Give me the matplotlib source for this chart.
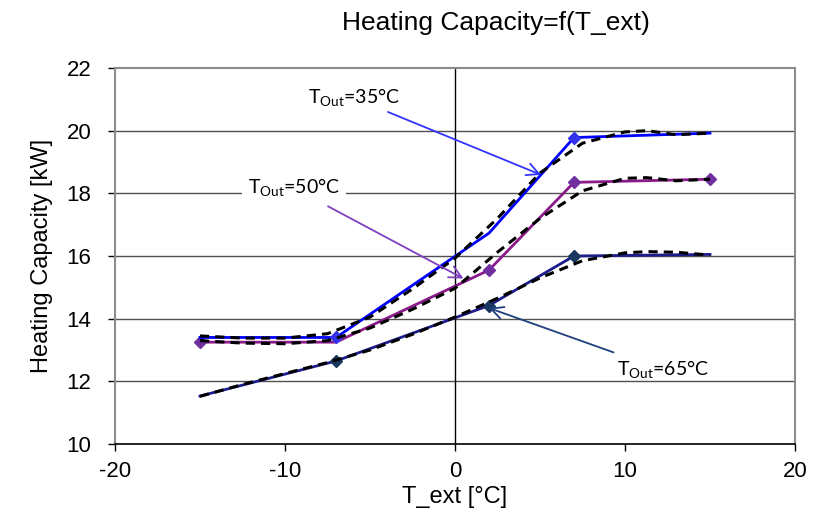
import matplotlib
matplotlib.use('Agg')
import matplotlib.pyplot as plt

plt.rcParams['axes.unicode_minus'] = False

# measured points
t_ext = [-15, -7, 2, 7, 15]
cap_35 = [13.4, 13.4, 16.73, 19.78, 19.92]
cap_50 = [13.25, 13.25, 15.55, 18.35, 18.45]
cap_65 = [11.53, 12.65, 14.42, 16.0, 16.05]

# fitted curves (dashed)
t_fit = [-15, -12.5, -10, -7.5, -5, -2.5, 0, 2.5, 5, 7.5, 10, 11.3, 13, 15]
fit_35 = [13.45, 13.38, 13.38, 13.52, 14.05, 14.95, 15.93, 17.2, 18.65, 19.6, 19.96, 20.0, 19.87, 19.92]
fit_50 = [13.3, 13.22, 13.2, 13.3, 13.7, 14.3, 14.97, 16.12, 17.2, 18.08, 18.48, 18.5, 18.4, 18.45]
fit_65 = [11.52, 11.9, 12.25, 12.6, 13.0, 13.5, 14.05, 14.65, 15.3, 15.85, 16.1, 16.14, 16.12, 16.03]

label_font = ['Liberation Sans Narrow', 'Liberation Sans', 'DejaVu Sans']
note_font = ['Lato', 'DejaVu Sans']

fig = plt.figure(figsize=(8.19, 5.19), dpi=100)
ax = fig.add_axes([0.1404, 0.1445, 0.8303, 0.7245])

ax.set_xlim(-20, 20)
ax.set_ylim(10, 22)
ax.set_xticks([-20, -10, 0, 10, 20])
ax.set_yticks([10, 12, 14, 16, 18, 20, 22])
for y in [12, 14, 16, 18, 20]:
    ax.axhline(y, color='#505050', lw=1, zorder=1)
ax.axvline(0, color='black', lw=1, zorder=1)

ax.plot(t_ext, cap_65, color='#1c1c8c', lw=2, zorder=3, marker='D', ms=6,
        mfc='#17375e', mec='#17375e', markevery=[1, 2, 3])
ax.plot(t_ext, cap_50, color='#8b1a8b', lw=2, zorder=3, marker='D', ms=6,
        mfc='#7030a0', mec='#7030a0', markevery=[0, 2, 3, 4])
ax.plot(t_ext, cap_35, color='#0000ff', lw=2, zorder=3, marker='D', ms=6,
        mfc='#3333ee', mec='#3333ee', markevery=[1, 3])

for fit in [fit_35, fit_50, fit_65]:
    ax.plot(t_fit, fit, color='black', lw=2.2, ls=(0, (3, 2)), zorder=4)

ax.annotate('T$_{\\mathregular{Out}}$=35°C', xy=(5.06, 18.59), xytext=(-8.65, 21.04),
            va='center', ha='left', fontsize=14, family=note_font,
            arrowprops=dict(arrowstyle='->', color='#3333ff', lw=1.3,
                            shrinkA=0, shrinkB=0, mutation_scale=22), zorder=5)
ax.annotate('T$_{\\mathregular{Out}}$=50°C', xy=(0.5, 15.28), xytext=(-12.2, 18.17),
            va='center', ha='left', fontsize=14, family=note_font,
            bbox=dict(boxstyle='square,pad=0.3', fc='white', ec='none'),
            arrowprops=dict(arrowstyle='->', color='#7f3fbf', lw=1.3,
                            shrinkA=2, shrinkB=0, mutation_scale=22), zorder=5)
ax.annotate('T$_{\\mathregular{Out}}$=65°C', xy=(2.0, 14.34), xytext=(9.53, 12.36),
            va='center', ha='left', fontsize=14, family=note_font,
            arrowprops=dict(arrowstyle='->', color='#1f3f7f', lw=1.3,
                            shrinkA=8, shrinkB=0, mutation_scale=22), zorder=5)

for side in ['left', 'top', 'right']:
    ax.spines[side].set_color('#8c8c8c')
    ax.spines[side].set_linewidth(1.5)
ax.spines['bottom'].set_color('black')
ax.spines['bottom'].set_linewidth(1.2)
ax.tick_params(axis='both', direction='out', length=5, width=1, labelsize=16)
ax.tick_params(axis='y', pad=12)
ax.tick_params(axis='x', pad=7)
for lab in ax.get_xticklabels() + ax.get_yticklabels():
    lab.set_family(label_font)

ax.set_xlabel('T_ext [°C]', fontsize=17, family=label_font, labelpad=3)
ax.set_ylabel('Heating Capacity [kW]', fontsize=17, family=label_font, labelpad=10)
fig.text(0.606, 0.955, 'Heating Capacity=f(T_ext)', ha='center', va='center',
         fontsize=19, family=label_font)

fig.savefig('out.png', dpi=100)
